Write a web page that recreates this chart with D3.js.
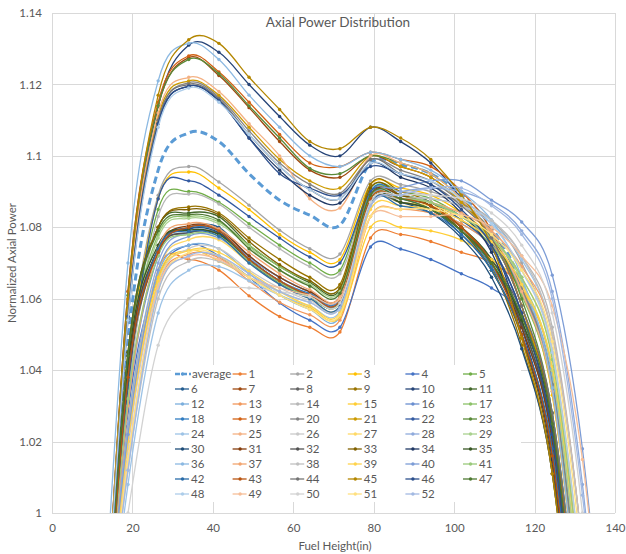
<!DOCTYPE html>
<html>
<head>
<meta charset="utf-8">
<script src="https://cdn.jsdelivr.net/npm/d3@7"></script>
<style>
  html, body { margin: 0; padding: 0; background: #fff; }
  svg { display: block; font-family: Lato, "Liberation Sans", sans-serif; }
</style>
</head>
<body>
<svg id="chart" width="626" height="554"></svg>
<script>
// ---------------- DATA ----------------
const heights = [11.4, 18.9, 26.4, 34.0, 41.5, 49.0, 56.6, 64.1, 71.6, 79.2, 86.7, 94.2, 101.8, 109.3, 116.8, 124.4, 131.9, 139.4];
const xTicks = [0, 20, 40, 60, 80, 100, 120, 140];
const yTicks = [1, 1.02, 1.04, 1.06, 1.08, 1.1, 1.12, 1.14];

const average = [0.93, 1.048, 1.096, 1.1064, 1.104, 1.095, 1.0876, 1.0834, 1.0806, 1.098, 1.0975, 1.095, 1.089, 1.080, 1.064, 1.035, 0.965, 0.87];
const s1  = [0.925, 1.020, 1.068, 1.071, 1.068, 1.0608, 1.055, 1.052, 1.0507, 1.077, 1.078, 1.076, 1.073, 1.070, 1.062, 1.036, 0.96, 0.86];
const s2  = [0.935, 1.040, 1.089, 1.097, 1.0927, 1.0862, 1.0792, 1.074, 1.0725, 1.093, 1.092, 1.090, 1.087, 1.082, 1.070, 1.045, 0.975, 0.87];
const s3  = [0.935, 1.038, 1.088, 1.0955, 1.091, 1.085, 1.078, 1.073, 1.071, 1.092, 1.091, 1.089, 1.084, 1.077, 1.062, 1.033, 0.96, 0.86];
const s4  = [0.93, 1.028, 1.066, 1.075, 1.072, 1.066, 1.0588, 1.054, 1.052, 1.0745, 1.0739, 1.071, 1.067, 1.063, 1.055, 1.028, 0.955, 0.85];
const s5  = [0.935, 1.036, 1.085, 1.090, 1.087, 1.081, 1.075, 1.070, 1.068, 1.091, 1.090, 1.088, 1.083, 1.076, 1.062, 1.036, 0.965, 0.86];
const s6  = [0.93, 1.040, 1.074, 1.080, 1.080, 1.0715, 1.066, 1.062, 1.060, 1.089, 1.088, 1.085, 1.078, 1.068, 1.050, 1.016, 0.935, 0.83];
const s7  = [0.925, 1.062, 1.114, 1.1275, 1.1225, 1.1135, 1.104, 1.096, 1.094, 1.100, 1.097, 1.094, 1.087, 1.077, 1.058, 1.026, 0.95, 0.84];
const s8  = [0.93, 1.036, 1.073, 1.0784, 1.0784, 1.071, 1.065, 1.061, 1.0595, 1.088, 1.088, 1.086, 1.080, 1.071, 1.056, 1.026, 0.95, 0.84];
const s9  = [0.93, 1.045, 1.080, 1.0857, 1.084, 1.077, 1.071, 1.066, 1.064, 1.092, 1.090, 1.087, 1.080, 1.069, 1.047, 1.011, 0.93, 0.82];
const s10 = [0.925, 1.058, 1.114, 1.131, 1.129, 1.120, 1.111, 1.103, 1.100, 1.108, 1.104, 1.098, 1.088, 1.076, 1.052, 1.016, 0.935, 0.83];
const s11 = [0.93, 1.045, 1.080, 1.084, 1.083, 1.075, 1.069, 1.0645, 1.0625, 1.090, 1.089, 1.086, 1.080, 1.071, 1.054, 1.020, 0.94, 0.83];
const s12 = [0.935, 1.025, 1.067, 1.075, 1.074, 1.067, 1.061, 1.057, 1.055, 1.086, 1.087, 1.085, 1.081, 1.075, 1.063, 1.038, 0.97, 0.87];
const s13 = [0.935, 1.020, 1.064, 1.0725, 1.0715, 1.065, 1.059, 1.0555, 1.054, 1.083, 1.085, 1.084, 1.081, 1.075, 1.064, 1.040, 0.975, 0.87];
const s14 = [0.94, 1.033, 1.083, 1.0893, 1.0865, 1.080, 1.074, 1.069, 1.067, 1.089, 1.090, 1.089, 1.087, 1.082, 1.072, 1.052, 0.99, 0.89];
const s15 = [0.935, 1.022, 1.066, 1.0735, 1.0705, 1.066, 1.061, 1.0575, 1.055, 1.080, 1.080, 1.079, 1.0764, 1.071, 1.063, 1.040, 0.97, 0.87];
const s16 = [0.935, 1.030, 1.072, 1.080, 1.0795, 1.072, 1.066, 1.062, 1.0605, 1.089, 1.089, 1.087, 1.083, 1.076, 1.062, 1.036, 0.965, 0.86];
const s17 = [0.935, 1.040, 1.078, 1.083, 1.0815, 1.075, 1.069, 1.065, 1.063, 1.090, 1.089, 1.087, 1.082, 1.075, 1.061, 1.034, 0.965, 0.86];
const s18 = [0.93, 1.038, 1.074, 1.0797, 1.079, 1.071, 1.065, 1.0615, 1.060, 1.090, 1.089, 1.086, 1.079, 1.069, 1.052, 1.020, 0.94, 0.83];
const s19 = [0.925, 1.062, 1.115, 1.128, 1.1235, 1.115, 1.106, 1.098, 1.097, 1.101, 1.099, 1.097, 1.090, 1.079, 1.058, 1.025, 0.95, 0.84];
const s20 = [0.93, 1.056, 1.110, 1.1205, 1.1165, 1.107, 1.098, 1.092, 1.0895, 1.099, 1.096, 1.093, 1.087, 1.079, 1.063, 1.036, 0.965, 0.86];
const s21 = [0.93, 1.057, 1.111, 1.121, 1.117, 1.108, 1.099, 1.093, 1.091, 1.100, 1.097, 1.094, 1.087, 1.077, 1.058, 1.024, 0.945, 0.84];
const s22 = [0.935, 1.035, 1.088, 1.093, 1.089, 1.083, 1.077, 1.0717, 1.070, 1.090, 1.089, 1.087, 1.082, 1.074, 1.056, 1.022, 0.945, 0.84];
const s23 = [0.925, 1.061, 1.114, 1.127, 1.123, 1.114, 1.105, 1.0965, 1.095, 1.100, 1.098, 1.095, 1.088, 1.078, 1.060, 1.028, 0.955, 0.85];
const s24 = [0.935, 1.008, 1.056, 1.068, 1.069, 1.065, 1.061, 1.058, 1.0565, 1.086, 1.088, 1.088, 1.086, 1.081, 1.071, 1.050, 0.99, 0.89];
const s25 = [0.93, 1.058, 1.112, 1.122, 1.118, 1.109, 1.100, 1.088, 1.0854, 1.100, 1.098, 1.095, 1.088, 1.078, 1.062, 1.034, 0.96, 0.86];
const s26 = [0.935, 1.018, 1.064, 1.074, 1.074, 1.068, 1.063, 1.0595, 1.058, 1.087, 1.088, 1.087, 1.084, 1.079, 1.068, 1.046, 0.98, 0.88];
const s27 = [0.935, 1.025, 1.068, 1.0765, 1.0765, 1.070, 1.064, 1.060, 1.058, 1.087, 1.087, 1.086, 1.083, 1.077, 1.066, 1.044, 0.98, 0.88];
const s28 = [0.94, 1.025, 1.070, 1.0785, 1.078, 1.0715, 1.066, 1.062, 1.060, 1.088, 1.090, 1.091, 1.090, 1.0865, 1.079, 1.062, 1.008, 0.92];
const s29 = [0.935, 1.038, 1.077, 1.0825, 1.081, 1.0745, 1.068, 1.064, 1.062, 1.089, 1.089, 1.087, 1.083, 1.077, 1.065, 1.040, 0.97, 0.87];
const s30 = [0.93, 1.040, 1.074, 1.0795, 1.0785, 1.071, 1.065, 1.061, 1.0595, 1.088, 1.087, 1.084, 1.077, 1.066, 1.046, 1.011, 0.93, 0.82];
const s31 = [0.93, 1.040, 1.074, 1.0805, 1.0795, 1.072, 1.066, 1.062, 1.0605, 1.089, 1.089, 1.086, 1.080, 1.070, 1.052, 1.020, 0.94, 0.83];
const s32 = [0.93, 1.037, 1.073, 1.0785, 1.078, 1.0705, 1.0645, 1.0605, 1.059, 1.087, 1.087, 1.085, 1.079, 1.070, 1.053, 1.022, 0.945, 0.84];
const s33 = [0.93, 1.044, 1.080, 1.085, 1.0835, 1.076, 1.0695, 1.065, 1.063, 1.091, 1.089, 1.086, 1.079, 1.068, 1.049, 1.013, 0.93, 0.82];
const s34 = [0.925, 1.054, 1.109, 1.1195, 1.1155, 1.105, 1.096, 1.089, 1.0868, 1.098, 1.094, 1.091, 1.084, 1.073, 1.050, 1.015, 0.935, 0.83];
const s35 = [0.93, 1.042, 1.075, 1.0792, 1.078, 1.0705, 1.0645, 1.0605, 1.059, 1.088, 1.087, 1.085, 1.079, 1.070, 1.054, 1.024, 0.945, 0.84];
const s36 = [0.94, 1.070, 1.121, 1.1315, 1.127, 1.117, 1.108, 1.100, 1.097, 1.101, 1.099, 1.096, 1.090, 1.082, 1.066, 1.035, 0.96, 0.86];
const s37 = [0.935, 1.030, 1.074, 1.081, 1.0795, 1.073, 1.067, 1.0625, 1.0605, 1.088, 1.088, 1.087, 1.084, 1.079, 1.069, 1.050, 0.99, 0.89];
const s38 = [0.94, 1.012, 1.060, 1.0705, 1.0705, 1.066, 1.062, 1.059, 1.0575, 1.086, 1.088, 1.088, 1.086, 1.082, 1.072, 1.050, 0.99, 0.89];
const s39 = [0.935, 1.020, 1.065, 1.0735, 1.073, 1.0675, 1.062, 1.058, 1.056, 1.085, 1.086, 1.085, 1.082, 1.076, 1.064, 1.041, 0.975, 0.87];
const s40 = [0.94, 1.022, 1.068, 1.0775, 1.077, 1.0705, 1.065, 1.061, 1.0595, 1.088, 1.091, 1.093, 1.093, 1.0876, 1.0815, 1.0666, 1.018, 0.93];
const s41 = [0.935, 1.032, 1.072, 1.078, 1.0775, 1.0705, 1.0645, 1.0605, 1.059, 1.088, 1.088, 1.087, 1.083, 1.077, 1.066, 1.043, 0.975, 0.87];
const s42 = [0.93, 1.038, 1.074, 1.0788, 1.0775, 1.070, 1.064, 1.060, 1.058, 1.087, 1.086, 1.084, 1.078, 1.068, 1.050, 1.018, 0.94, 0.83];
const s43 = [0.93, 1.038, 1.073, 1.080, 1.079, 1.071, 1.065, 1.061, 1.0595, 1.088, 1.088, 1.086, 1.080, 1.070, 1.050, 1.016, 0.935, 0.83];
const s44 = [0.925, 1.055, 1.110, 1.120, 1.116, 1.106, 1.097, 1.0905, 1.088, 1.099, 1.095, 1.092, 1.086, 1.077, 1.058, 1.028, 0.955, 0.85];
const s45 = [0.925, 1.060, 1.117, 1.1325, 1.1315, 1.122, 1.113, 1.104, 1.102, 1.108, 1.105, 1.099, 1.089, 1.075, 1.049, 1.011, 0.93, 0.82];
const s46 = [0.925, 1.055, 1.109, 1.1195, 1.1155, 1.105, 1.095, 1.091, 1.089, 1.097, 1.095, 1.092, 1.085, 1.075, 1.056, 1.022, 0.945, 0.84];
const s47 = [0.93, 1.044, 1.079, 1.0835, 1.082, 1.074, 1.068, 1.0635, 1.0615, 1.089, 1.088, 1.085, 1.079, 1.070, 1.055, 1.025, 0.945, 0.84];
const s48 = [0.93, 1.054, 1.108, 1.119, 1.115, 1.106, 1.097, 1.0905, 1.088, 1.098, 1.095, 1.093, 1.088, 1.081, 1.068, 1.045, 0.98, 0.88];
const s49 = [0.94, 1.015, 1.063, 1.0717, 1.071, 1.066, 1.063, 1.061, 1.060, 1.083, 1.083, 1.083, 1.0835, 1.080, 1.072, 1.058, 1.015, 0.93];
const s50 = [0.94, 1.000, 1.047, 1.060, 1.063, 1.063, 1.062, 1.0605, 1.0588, 1.087, 1.089, 1.089, 1.088, 1.084, 1.075, 1.056, 1.000, 0.90];
const s51 = [0.94, 1.015, 1.062, 1.073, 1.072, 1.066, 1.061, 1.057, 1.0555, 1.083, 1.085, 1.085, 1.083, 1.078, 1.068, 1.048, 0.985, 0.88];
const s52 = [0.94, 1.012, 1.062, 1.072, 1.072, 1.067, 1.062, 1.059, 1.0575, 1.086, 1.089, 1.091, 1.091, 1.086, 1.078, 1.060, 1.005, 0.92];

const seriesNames = ["average"].concat(d3.range(1, 53).map(String));
const seriesValues = [average, s1, s2, s3, s4, s5, s6, s7, s8, s9, s10, s11, s12, s13, s14, s15, s16, s17, s18, s19, s20,
  s21, s22, s23, s24, s25, s26, s27, s28, s29, s30, s31, s32, s33, s34, s35, s36, s37, s38, s39, s40,
  s41, s42, s43, s44, s45, s46, s47, s48, s49, s50, s51, s52];

// ---------------- STYLE / LAYOUT ----------------
const accents = ["#5B9BD5", "#ED7D31", "#A5A5A5", "#FFC000", "#4472C4", "#70AD47"];
const shadeMods = [[1, 0], [0.6, 0], [0.8, 0.2], [0.8, 0], [0.6, 0.4], [0.5, 0], [0.7, 0.3], [0.7, 0], [0.5, 0.5]];
function seriesColor(i) {
  const c = d3.hsl(accents[i % 6]);
  const [m, o] = shadeMods[Math.floor(i / 6)];
  c.l = Math.min(1, c.l * m + o);
  return c.formatHex();
}

const W = 626, H = 554;
const plot = { left: 52, right: 615, top: 13, bottom: 513 };
const textColor = "#595959";
const gridColor = "#D9D9D9";

const svg = d3.select("#chart");
svg.append("rect").attr("width", W).attr("height", H).attr("fill", "#fff");

const x = d3.scaleLinear().domain([0, 140]).range([plot.left, plot.right]);
const y = d3.scaleLinear().domain([1, 1.14]).range([plot.bottom, plot.top]);

// gridlines
svg.append("g").selectAll("line.h").data(yTicks).join("line")
  .attr("x1", plot.left).attr("x2", plot.right)
  .attr("y1", d => Math.round(y(d)) + 0.5).attr("y2", d => Math.round(y(d)) + 0.5)
  .attr("stroke", gridColor).attr("stroke-width", 1);
svg.append("g").selectAll("line.v").data(xTicks).join("line")
  .attr("y1", plot.top).attr("y2", plot.bottom)
  .attr("x1", d => Math.round(x(d)) + 0.5).attr("x2", d => Math.round(x(d)) + 0.5)
  .attr("stroke", gridColor).attr("stroke-width", 1);

// axes (labels only)
const yAxis = d3.axisLeft(y).tickValues(yTicks).tickSize(0).tickPadding(10).tickFormat(d3.format("~g"));
const gy = svg.append("g").attr("transform", `translate(${plot.left},0)`).call(yAxis);
const xAxis = d3.axisBottom(x).tickValues(xTicks).tickSize(0).tickPadding(11).tickFormat(d3.format("d"));
const gx = svg.append("g").attr("transform", `translate(0,${plot.bottom})`).call(xAxis);
[gx, gy].forEach(g => {
  g.select(".domain").remove();
  g.selectAll("text").attr("fill", textColor).style("font-size", "11.5px").style("font-family", "Lato, sans-serif");
});

// clip
svg.append("clipPath").attr("id", "plotClip").append("rect")
  .attr("x", plot.left).attr("y", plot.top)
  .attr("width", plot.right - plot.left).attr("height", plot.bottom - plot.top);

const lineGen = d3.line()
  .x((d, i) => x(heights[i]))
  .y(d => y(d))
  .curve(d3.curveCatmullRom.alpha(0));

const gSeries = svg.append("g").attr("clip-path", "url(#plotClip)");
seriesValues.forEach((vals, i) => {
  const col = seriesColor(i);
  const g = gSeries.append("g");
  if (i === 0) {
    g.append("path").attr("d", lineGen(vals)).attr("fill", "none")
      .attr("stroke", col).attr("stroke-width", 3).attr("stroke-dasharray", "7,4");
  } else {
    g.append("path").attr("d", lineGen(vals)).attr("fill", "none")
      .attr("stroke", col).attr("stroke-width", 1.3);
    g.selectAll("circle").data(vals).join("circle")
      .attr("cx", (d, k) => x(heights[k])).attr("cy", d => y(d))
      .attr("r", 1.7).attr("fill", col);
  }
});

// title
svg.append("text").attr("x", 338).attr("y", 27).attr("text-anchor", "middle")
  .attr("fill", textColor).style("font-size", "13.5px").text("Axial Power Distribution");

// axis titles
svg.append("text").attr("x", 335).attr("y", 550).attr("text-anchor", "middle")
  .attr("fill", textColor).style("font-size", "11.5px").text("Fuel Height(in)");
svg.append("text").attr("transform", "translate(16,263) rotate(-90)").attr("text-anchor", "middle")
  .attr("fill", textColor).style("font-size", "11.5px").text("Normalized Axial Power");

// legend
const legX0 = 175, legDX = 57.6, legY0 = 374, legDY = 15;
const legend = svg.append("g");
legend.append("rect").attr("x", 171).attr("y", 365).attr("width", 350).attr("height", 137).attr("fill", "#fff");
seriesNames.forEach((name, i) => {
  const r = Math.floor(i / 6), c = i % 6;
  const g = legend.append("g").attr("transform", `translate(${legX0 + c * legDX},${legY0 + r * legDY})`);
  const col = seriesColor(i);
  if (i === 0) {
    g.append("line").attr("x1", 0).attr("x2", 16).attr("y1", 0).attr("y2", 0)
      .attr("stroke", col).attr("stroke-width", 2.5).attr("stroke-dasharray", "5,2");
  } else {
    g.append("line").attr("x1", 0).attr("x2", 14).attr("y1", 0).attr("y2", 0)
      .attr("stroke", col).attr("stroke-width", 1.3);
  }
  g.append("circle").attr("cx", 7.5).attr("cy", 0).attr("r", 1.7).attr("fill", col);
  g.append("text").attr("x", i === 0 ? 17 : 16).attr("y", 0).attr("dy", "0.35em")
    .attr("fill", textColor).style("font-size", "11.5px").text(name);
});
</script>
</body>
</html>
